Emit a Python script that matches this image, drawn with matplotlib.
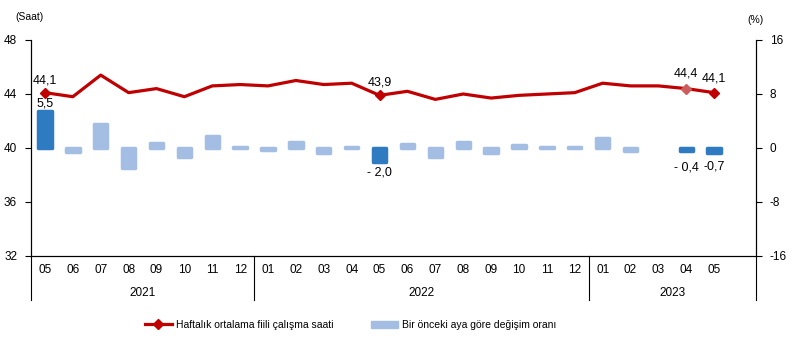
import matplotlib.pyplot as plt
import matplotlib.transforms as mtransforms
from matplotlib.lines import Line2D
from matplotlib.patches import Patch
import numpy as np

plt.rcParams['font.family'] = ['Liberation Sans', 'DejaVu Sans']
plt.rcParams['axes.unicode_minus'] = False

# monthly data, 2021-05 .. 2023-05
months = ['05', '06', '07', '08', '09', '10', '11', '12',
          '01', '02', '03', '04', '05', '06', '07', '08', '09', '10', '11', '12',
          '01', '02', '03', '04', '05']
years = ['2021', '2022', '2023']
hours = [44.1, 43.8, 45.4, 44.1, 44.4, 43.8, 44.6, 44.7,
         44.6, 45.0, 44.7, 44.8, 43.9, 44.2, 43.6, 44.0, 43.7, 43.9, 44.0, 44.1,
         44.8, 44.6, 44.6, 44.4, 44.1]
change = [5.5, -0.6, 3.6, -2.9, 0.7, -1.4, 1.8, 0.2,
          -0.3, 0.9, -0.7, 0.2, -2.0, 0.6, -1.4, 0.9, -0.7, 0.4, 0.2, 0.2,
          1.5, -0.4, 0.0, -0.4, -0.7]
highlight = [0, 12, 23, 24]

line_col = '#C00000'
bar_light = '#A4BEE3'
bar_dark = '#2E7BC1'

x = np.arange(len(months))

fig = plt.figure(figsize=(7.92, 3.52), dpi=100)
ax = fig.add_axes([31/792, 1-256/352, (756-31)/792, 216/352])
ax2 = ax.twinx()

# bars on the right (%) axis, zero values get no outline
cols = [bar_dark if i in highlight else bar_light for i in x]
widths = [0 if v == 0 else 2.5 for v in change]
ax2.bar(x, change, width=0.48, color=cols, edgecolor=cols, linewidth=widths,
        joinstyle='round', zorder=2)
ax2.set_ylim(-16, 16)
ax2.set_yticks([-16, -8, 0, 8, 16])

# line on the left (hours) axis, drawn above the bars
ax.set_zorder(ax2.get_zorder() + 1)
ax.patch.set_visible(False)
ax.plot(x, hours, color=line_col, lw=2.3, zorder=3)
for i in [0, 12, 24]:
    ax.plot(x[i], hours[i], marker='D', ms=5, color=line_col, zorder=4)
ax.plot(x[23], hours[23], marker='D', ms=5, color='#CD5C5C', zorder=4)
ax.set_ylim(32, 48)
ax.set_yticks([32, 36, 40, 44, 48])
ax.set_xlim(-0.5, len(months) + 0.5)
ax.set_xticks(x)
ax.set_xticklabels(months)

for a in (ax, ax2):
    a.spines['top'].set_visible(False)
    a.tick_params(axis='y', labelsize=8.5, length=4, width=0.8, pad=6)
ax.tick_params(axis='x', length=0, labelsize=8.5, pad=6)

# data labels
def lab(i, val, txt, dy):
    ax.annotate(txt, (x[i], val), xytext=(0, dy), textcoords='offset points',
                ha='center', va='center', fontsize=9)

lab(0, hours[0], '44,1', 9)
lab(12, hours[12], '43,9', 9)
lab(23, hours[23], '44,4', 11)
lab(24, hours[24], '44,1', 10)
ax2.annotate('5,5', (x[0], change[0]), xytext=(0, 5), textcoords='offset points',
             ha='center', va='center', fontsize=9)
ax2.annotate('- 2,0', (x[12], change[12]), xytext=(0, -8), textcoords='offset points',
             ha='center', va='center', fontsize=9)
ax2.annotate('- 0,4', (x[23], change[23]), xytext=(0, -12), textcoords='offset points',
             ha='center', va='center', fontsize=9)
ax2.annotate('-0,7', (x[24], change[24]), xytext=(0, -10), textcoords='offset points',
             ha='center', va='center', fontsize=9)

# year separators and labels below the axis
trans = mtransforms.blended_transform_factory(ax.transData, ax.transAxes)
seps = [-0.5, 7.5, 19.5, len(months) + 0.5]
for s in seps:
    ax.add_line(Line2D([s, s], [0, -0.205], transform=trans, color='black',
                       lw=0.8, clip_on=False))
for k, yr in enumerate(years):
    ax.text((seps[k] + seps[k + 1]) / 2, -0.17, yr, transform=trans,
            ha='center', va='center', fontsize=8.5)

fig.text(15/792, 1-17/352, '(Saat)', fontsize=7.5, va='center')
fig.text(747/792, 1-20/352, '(%)', fontsize=7.5, va='center')

handles = [Line2D([0], [0], color=line_col, lw=2.3, marker='D', ms=5),
           Patch(color=bar_light)]
fig.legend(handles, ['Haftalık ortalama fiili çalışma saati',
                     'Bir önceki aya göre değişim oranı'],
           loc='center', bbox_to_anchor=(0.443, 1-325/352), ncol=2, frameon=False,
           fontsize=7.5, handlelength=2.6, columnspacing=3.6, handletextpad=0.4)

fig.savefig('out.png', dpi=100)
